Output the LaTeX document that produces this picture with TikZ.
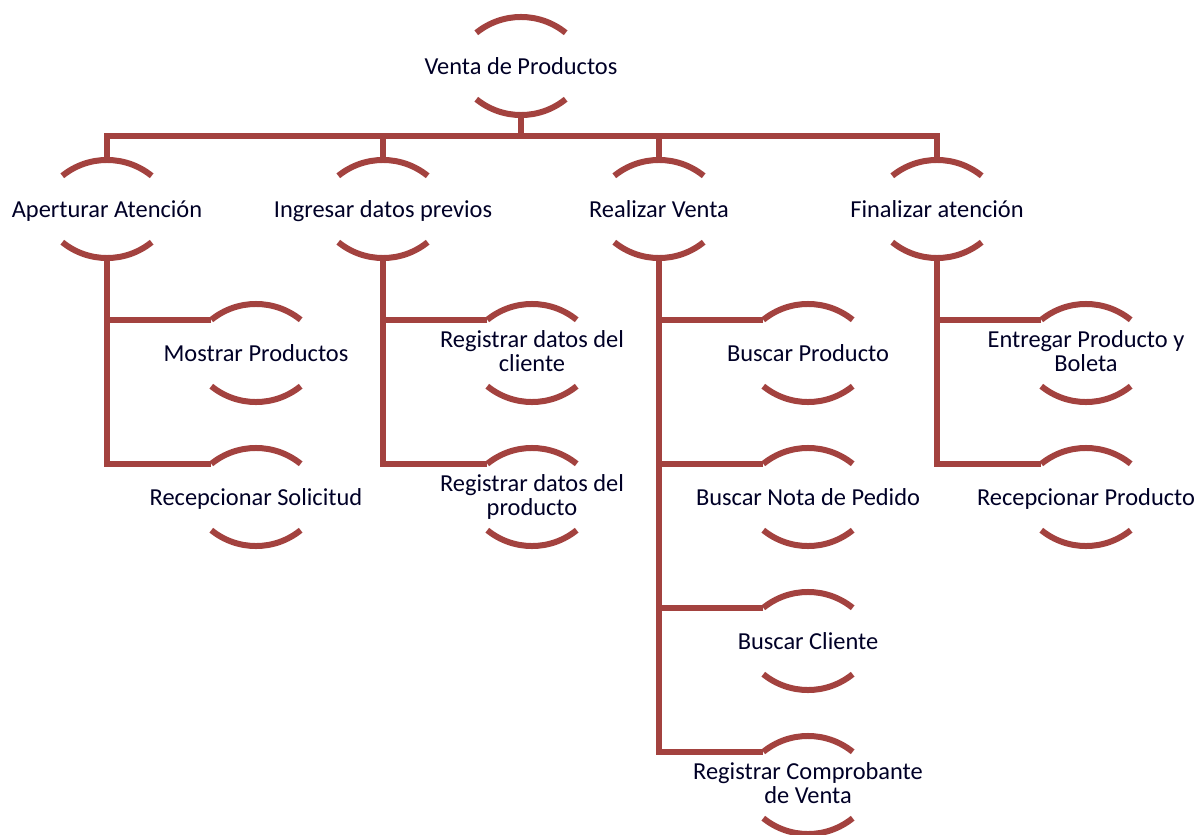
\documentclass[tikz,border=0pt]{standalone}
\usepackage{fontspec}
\setmainfont{Carlito}
\definecolor{chartred}{RGB}{163,66,63}
\tikzset{
  lbl/.style={align=center, inner sep=0pt, text=black!85!blue,
    execute at begin node={\vphantom{Ág}},
    execute at end node={\vphantom{Ág}},
    font=\fontsize{12.2}{12}\selectfont},
  arcline/.style={draw=chartred, line width=3pt},
  link/.style={draw=chartred, line width=3pt}
}
% A labelled node framed by an upper and a lower arc.
% #1 name, #2 x, #3 y, #4 text
\newcommand\hcnode[4]{%
  \node[lbl] (#1) at (#2,#3) {#4};
  \coordinate (#1-t) at (#2,#3+49);
  \coordinate (#1-b) at (#2,#3-49);
  \coordinate (#1-l) at (#2-44.7,#3+33.2);
  \coordinate (#1-bl) at (#2-44.7,#3-33.2);
  \draw[arcline] (#1-l) arc[start angle=129,end angle=51,radius=71];
  \draw[arcline] (#1-bl) arc[start angle=231,end angle=309,radius=71];
}
\begin{document}
\begin{tikzpicture}[x=0.5pt,y=0.5pt]
  \useasboundingbox (0,0) rectangle (1195,-835);
  \clip (0,0) rectangle (1195,-835);

  % root and first level
  \hcnode{root}{521}{-66}{Venta de Productos}
  \hcnode{ap}{107}{-209}{Aperturar Atención}
  \hcnode{in}{383}{-209}{Ingresar datos previos}
  \hcnode{re}{659}{-209}{Realizar Venta}
  \hcnode{fi}{937}{-209}{Finalizar atención}

  % second level
  \hcnode{ap1}{256}{-353}{Mostrar Productos}
  \hcnode{ap2}{256}{-497}{Recepcionar Solicitud}
  \hcnode{in1}{532}{-353}{Registrar datos del\\cliente}
  \hcnode{in2}{532}{-497}{Registrar datos del\\producto}
  \hcnode{re1}{808}{-353}{Buscar Producto}
  \hcnode{re2}{808}{-497}{Buscar Nota de Pedido}
  \hcnode{re3}{808}{-641}{Buscar Cliente}
  \hcnode{re4}{808}{-785}{Registrar Comprobante\\de Venta}
  \hcnode{fi1}{1086}{-353}{Entregar Producto y\\Boleta}
  \hcnode{fi2}{1086}{-497}{Recepcionar Producto}

  % bus under the root
  \coordinate (bar) at (521,-136);
  \draw[link] (root-b) -- (bar);
  \draw[link] (ap-t) |- (fi-t |- bar) -- (fi-t);
  \draw[link] (in-t) -- (in-t |- bar);
  \draw[link] (re-t) -- (re-t |- bar);

  % branches to the second level
  \draw[link] (ap1-l) -| (ap-b);
  \draw[link] (ap-b) |- (ap2-l);
  \draw[link] (in1-l) -| (in-b);
  \draw[link] (in-b) |- (in2-l);
  \draw[link] (re1-l) -| (re-b);
  \draw[link] (re2-l) -| (re-b);
  \draw[link] (re3-l) -| (re-b);
  \draw[link] (re-b) |- (re4-l);
  \draw[link] (fi1-l) -| (fi-b);
  \draw[link] (fi-b) |- (fi2-l);
\end{tikzpicture}
\end{document}
